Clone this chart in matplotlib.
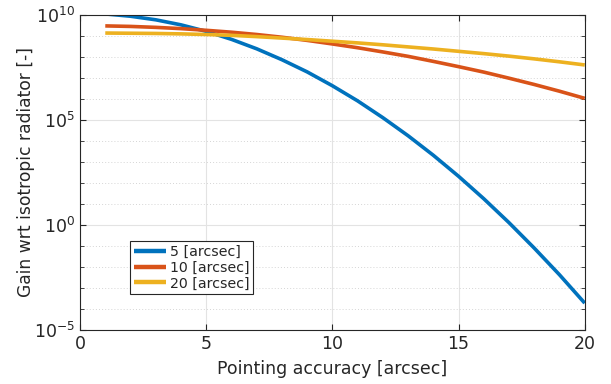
import numpy as np
import matplotlib
matplotlib.use("Agg")
import matplotlib.pyplot as plt
from matplotlib.ticker import FixedLocator, LogFormatterSciNotation, NullFormatter

# pointing accuracy [arcsec]
pointing = [1, 2, 3, 4, 5, 6, 7, 8, 9, 10, 11, 12, 13, 14, 15, 16, 17, 18, 19, 20]

# log10 of gain
gain_5 = [10.05, 9.94, 9.77, 9.53, 9.22, 8.84, 8.39, 7.87, 7.29, 6.63,
          5.91, 5.11, 4.25, 3.32, 2.32, 1.25, 0.11, -1.10, -2.37, -3.72]
gain_10 = [9.48, 9.455, 9.41, 9.35, 9.27, 9.18, 9.07, 8.94, 8.79, 8.62,
           8.44, 8.24, 8.03, 7.79, 7.54, 7.28, 6.99, 6.69, 6.37, 6.03]
gain_20 = [9.14, 9.13, 9.12, 9.10, 9.07, 9.03, 8.97, 8.90, 8.83, 8.75,
           8.67, 8.58, 8.48, 8.38, 8.27, 8.16, 8.04, 7.91, 7.77, 7.62]

labels = ['5 [arcsec]', '10 [arcsec]', '20 [arcsec]']
colors = ['#0072BD', '#D95319', '#EDB120']

txt = '#262626'

fig = plt.figure(figsize=(6.11, 3.84), dpi=100)
ax = fig.add_axes([0.131, 0.1406, 0.826, 0.8204])

for g, lab, c in zip([gain_5, gain_10, gain_20], labels, colors):
    ax.plot(pointing, 10.0 ** np.array(g), color=c, lw=2.6, label=lab,
            solid_capstyle='butt')

ax.set_yscale('log')
ax.set_xlim(0, 20)
ax.set_ylim(1e-5, 1e10)
ax.set_xticks([0, 5, 10, 15, 20])
ax.yaxis.set_major_locator(FixedLocator([1e-5, 1e0, 1e5, 1e10]))
ax.yaxis.set_major_formatter(LogFormatterSciNotation())
ax.yaxis.set_minor_locator(FixedLocator([10.0 ** k for k in range(-5, 11)]))
ax.yaxis.set_minor_formatter(NullFormatter())

ax.grid(True, which='major', color='#e3e3e3', lw=0.8, ls='-')
ax.grid(True, which='minor', axis='y', color='#d0d0d0', lw=0.6, ls=(0, (1.2, 2.5)))
ax.set_axisbelow(True)

ax.tick_params(which='both', direction='in', top=True, right=True,
               colors=txt, labelsize=12.5, length=4)
ax.tick_params(which='minor', length=3)
for s in ax.spines.values():
    s.set_color(txt)
    s.set_linewidth(0.8)

ax.set_xlabel('Pointing accuracy [arcsec]', fontsize=12.5, color=txt, labelpad=5)
ax.set_ylabel('Gain wrt isotropic radiator [-]', fontsize=12.3, color=txt, labelpad=-0.5)

leg = ax.legend(loc='upper left', bbox_to_anchor=(0.099, 0.281), fontsize=10.2,
                handlelength=2.3, handletextpad=0.25, borderpad=0.25,
                labelspacing=0.12, fancybox=False, framealpha=1,
                borderaxespad=0)
leg.get_frame().set_edgecolor(txt)
leg.get_frame().set_linewidth(0.8)
for t in leg.get_texts():
    t.set_color(txt)
for h in leg.get_lines():
    h.set_linewidth(3.2)

fig.savefig('out.png', dpi=100)
